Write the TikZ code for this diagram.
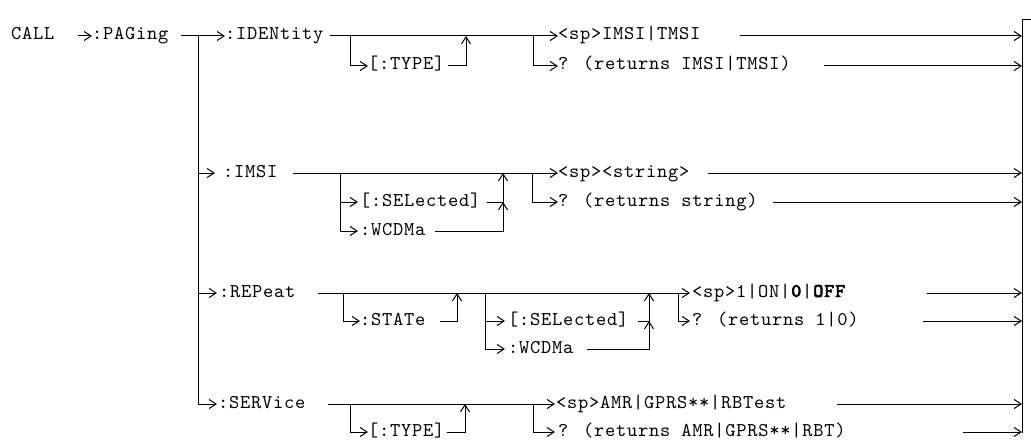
\documentclass[tikz,border=0pt]{standalone}
\usepackage{fontspec}
\newfontfamily\cmdfont{lmmono10-regular.otf}[BoldFont=lmmonolt10-bold.otf,BoldFeatures={FakeBold=2},LetterSpace=3.9]
\usetikzlibrary{arrows.meta}
\begin{document}
\begin{tikzpicture}[x=1pt,y=-1pt,
  txt/.style={font=\cmdfont\fontsize{19.5}{21}\selectfont,anchor=west,inner sep=0pt,text height=8pt,text depth=0pt},
  ln/.style={line width=1pt},
  arr/.style={line width=1pt,-{Straight Barb[length=7pt,width=9pt]}}]
\useasboundingbox (0,0) rectangle (1031,444);
% right bar
\coordinate (barTop) at (1022,20);
\coordinate (barBot) at (1022,433);
\coordinate (barEnd) at (1031,20);
\draw[ln] (barEnd) -- (barTop) -- (barBot);
% root
\node[txt] (call) at (11,36) {CALL};
\node[txt] (paging) at (92,36) {:PAGing};
\coordinate (c1) at (78,36);
\draw[arr] (c1) -- (paging.west);
\coordinate (p1) at (181,36);
\coordinate (pj) at (198,36);
% ---- row 1
\node[txt] (ident) at (225,36) {:IDENtity};
\draw[arr] (p1) -- (ident.west);
\node[txt] (type1) at (368,66) {[:TYPE]};
\node[txt] (imsitmsi) at (558,36) {<sp>IMSI|TMSI};
\node[txt] (ret1) at (558,66) {? (returns IMSI|TMSI)};
\coordinate (i1) at (330,36);
\draw[arr] (i1) -- (imsitmsi.west);
\coordinate (j1a) at (350,36);
\draw[arr] (j1a) |- (type1.west);
\coordinate (t1e) at (448,66);
\coordinate (u1) at (466,66);
\draw[arr] (t1e) -- (u1) -- (u1 |- ident.west);
\coordinate (j1b) at (533,36);
\draw[arr] (j1b) |- (ret1.west);
\coordinate (o1) at (740,36);
\draw[arr] (o1) -- (o1 -| barTop);
\coordinate (o1b) at (824,66);
\draw[arr] (o1b) -- (o1b -| barTop);
% ---- row 2
\node[txt] (imsi) at (223,173) {:IMSI};
\draw[arr] (pj) |- ([xshift=-8pt]imsi.west);
\node[txt] (sel1) at (360,202) {[:SELected]};
\node[txt] (wc1) at (360,231) {:WCDMa};
\node[txt] (str) at (558,173) {<sp><string>};
\node[txt] (ret2) at (558,202) {? (returns string)};
\coordinate (i2) at (293,173);
\draw[arr] (i2) -- (str.west);
\coordinate (j2a) at (340,173);
\draw[arr] (j2a) |- ([xshift=-2pt]sel1.west);
\draw[arr] (j2a) |- ([xshift=-2pt]wc1.west);
\coordinate (s1e) at (487,202);
\coordinate (u2) at (503,202);
\draw[arr] (s1e) -- (u2) -- (u2 |- imsi.west);
\coordinate (w1e) at (435,231);
\coordinate (u2b) at (503,231);
\draw[arr] (w1e) -- (u2b) -- (u2);
\coordinate (j2b) at (532,173);
\draw[arr] (j2b) |- (ret2.west);
\coordinate (o2) at (708,173);
\draw[arr] (o2) -- (o2 -| barTop);
\coordinate (o2b) at (773,202);
\draw[arr] (o2b) -- (o2b -| barTop);
% ---- row 3
\node[txt] (rep) at (219,293) {:REPeat};
\draw[arr] (pj) |- ([xshift=-2pt]rep.west);
\node[txt] (state) at (360,321) {:STATe};
\node[txt] (sel2) at (508,321) {[:SELected]};
\node[txt] (wc2) at (508,349) {:WCDMa};
\node[txt] (onoff) at (692,293) {<sp>1|ON|\textbf{0}|\textbf{OFF}};
\node[txt] (ret3) at (692,321) {? (returns 1|0)};
\coordinate (i3) at (318,293);
\draw[arr] (i3) -- ([xshift=-2pt]onoff.west);
\coordinate (j3a) at (343,293);
\draw[arr] (j3a) |- (state.west);
\coordinate (st) at (440,321);
\coordinate (u3) at (457,321);
\draw[arr] (st) -- (u3) -- (u3 |- rep.west);
\coordinate (j3b) at (485,293);
\draw[arr] (j3b) |- ([xshift=-3pt]sel2.west);
\draw[arr] (j3b) |- ([xshift=-3pt]wc2.west);
\coordinate (s2e) at (638,321);
\coordinate (u3b) at (649,321);
\draw[arr] (s2e) -- (u3b) -- (u3b |- rep.west);
\coordinate (w2e) at (587,349);
\coordinate (u3c) at (649,349);
\draw[arr] (w2e) -- (u3c) -- (u3b);
\coordinate (j3c) at (678,293);
\draw[arr] (j3c) |- ([xshift=-2pt]ret3.west);
\coordinate (o3) at (927,293);
\draw[arr] (o3) -- (o3 -| barTop);
\coordinate (o3b) at (923,321);
\draw[arr] (o3b) -- (o3b -| barTop);
% ---- row 4
\node[txt] (serv) at (218,404) {:SERVice};
\draw[arr] (pj) |- ([xshift=-1pt]serv.west);
\node[txt] (type4) at (368,432) {[:TYPE]};
\node[txt] (amr) at (556,404) {<sp>AMR|GPRS**|RBTest};
\node[txt] (ret4) at (558,432) {? (returns AMR|GPRS**|RBT)};
\coordinate (i4) at (328,404);
\draw[arr] (i4) -- ([xshift=-1pt]amr.west);
\coordinate (j4a) at (350,404);
\draw[arr] (j4a) |- (type4.west);
\coordinate (t4e) at (447,432);
\coordinate (u4) at (465,432);
\draw[arr] (t4e) -- (u4) -- (u4 |- serv.west);
\coordinate (j4b) at (533,404);
\draw[arr] (j4b) |- ([xshift=-3pt]ret4.west);
\coordinate (o4) at (837,404);
\draw[arr] (o4) -- (o4 -| barTop);
\coordinate (o4b) at (963,432);
\draw[arr] (o4b) -- (o4b -| barTop);
\end{tikzpicture}
\end{document}
